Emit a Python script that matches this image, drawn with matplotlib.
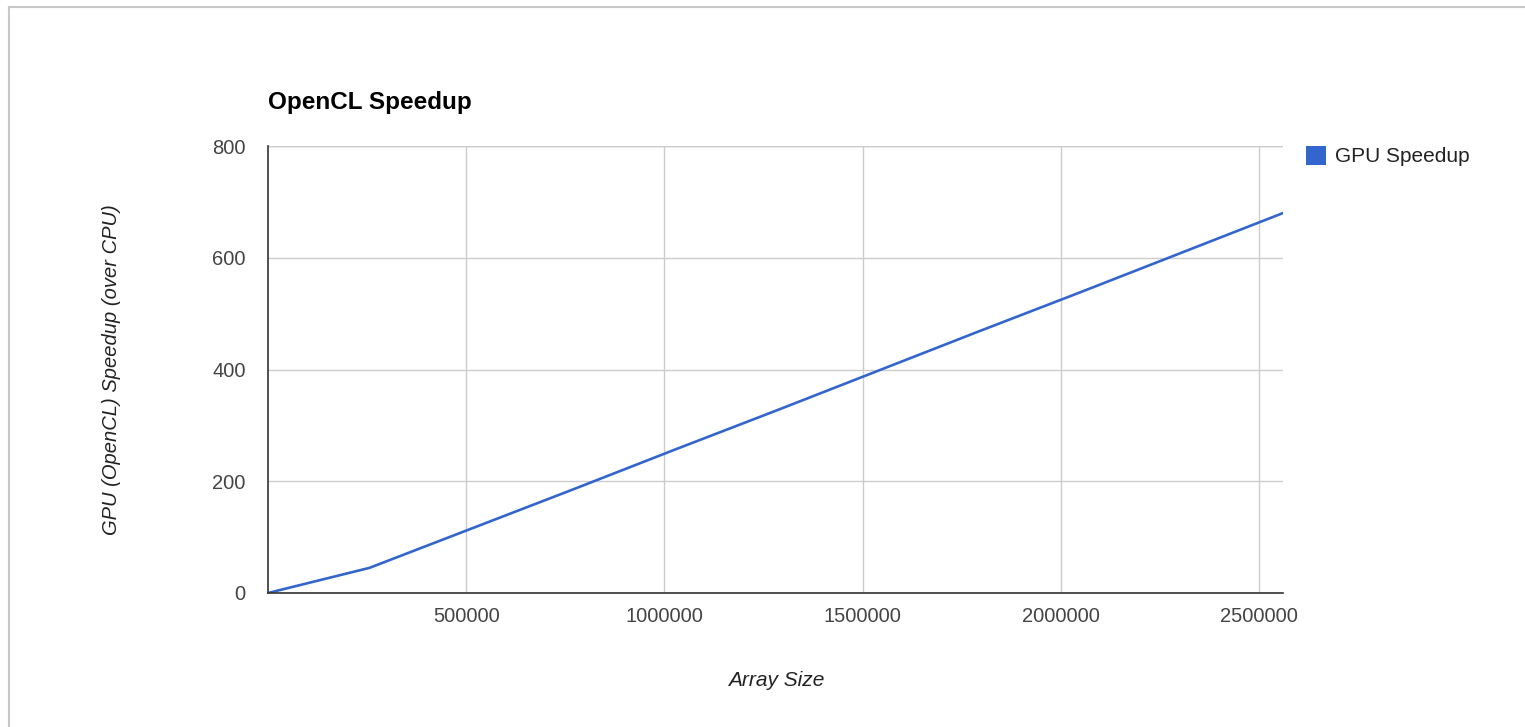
import matplotlib
matplotlib.use("Agg")
import matplotlib.pyplot as plt
from matplotlib.lines import Line2D
from matplotlib.patches import Rectangle

# Array sizes tested and the GPU speedup measured at each size
array_size = [0, 256000, 512000, 768000, 1024000, 1280000,
              1536000, 1792000, 2048000, 2304000, 2560000]
gpu_speedup = [0, 45, 115, 185, 256, 326, 397, 468, 538, 609, 680]

x_ticks = [500000, 1000000, 1500000, 2000000, 2500000]
y_ticks = [0, 200, 400, 600, 800]

BLUE = "#3366cc"
plt.rcParams["font.family"] = ["Liberation Sans", "DejaVu Sans"]

W, H = 1525, 727
fig = plt.figure(figsize=(W / 100, H / 100), dpi=100)
ax = fig.add_axes([268 / W, 1 - 593 / H, (1283 - 268) / W, (593 - 146) / H])

ax.plot(array_size, gpu_speedup, color=BLUE, lw=1.9, solid_joinstyle="round", zorder=3)

ax.set_xlim(0, 2560000)
ax.set_ylim(0, 800)
ax.set_xticks(x_ticks)
ax.set_yticks(y_ticks)
ax.set_xticklabels([str(t) for t in x_ticks])
ax.set_yticklabels([str(t) for t in y_ticks])
ax.tick_params(length=0, labelsize=14.5, colors="#444444", pad=10)
ax.tick_params(axis="y", pad=16)
ax.grid(True, color="#cccccc", lw=1)
ax.set_axisbelow(True)

for side in ("top", "right"):
    ax.spines[side].set_visible(False)
for side in ("left", "bottom"):
    ax.spines[side].set_color("#333333")
    ax.spines[side].set_linewidth(1.2)
    ax.spines[side].set_zorder(4)

# top grid line at 800 drawn light, like the other gridlines
ax.axhline(800, color="#cccccc", lw=1, zorder=1)

fig.text(268 / W, 1 - 102 / H, "OpenCL Speedup", fontsize=17.5,
         fontweight="bold", color="black", va="center", ha="left")
fig.text(112 / W, 1 - 370 / H, "GPU (OpenCL) Speedup (over CPU)", fontsize=14.5,
         style="italic", color="#222222", rotation=90, va="center", ha="center")
fig.text(776 / W, 1 - 680 / H, "Array Size", fontsize=15,
         style="italic", color="#222222", va="center", ha="center")

# legend
fig.add_artist(Rectangle((1306 / W, 1 - 165 / H), 20 / W, 19 / H,
                         transform=fig.transFigure, facecolor=BLUE, edgecolor="none"))
fig.text(1335 / W, 1 - 156 / H, "GPU Speedup", fontsize=15,
         color="#222222", va="center", ha="left")

# thin frame along the top and left of the image
fig.add_artist(Line2D([9 / W, 9 / W], [0, 1 - 6.5 / H], transform=fig.transFigure,
                      color="#c8c8c8", lw=1.5))
fig.add_artist(Line2D([9 / W, 1], [1 - 6.5 / H, 1 - 6.5 / H], transform=fig.transFigure,
                      color="#c8c8c8", lw=1.5))

fig.savefig("out.png", dpi=100, facecolor="white")
